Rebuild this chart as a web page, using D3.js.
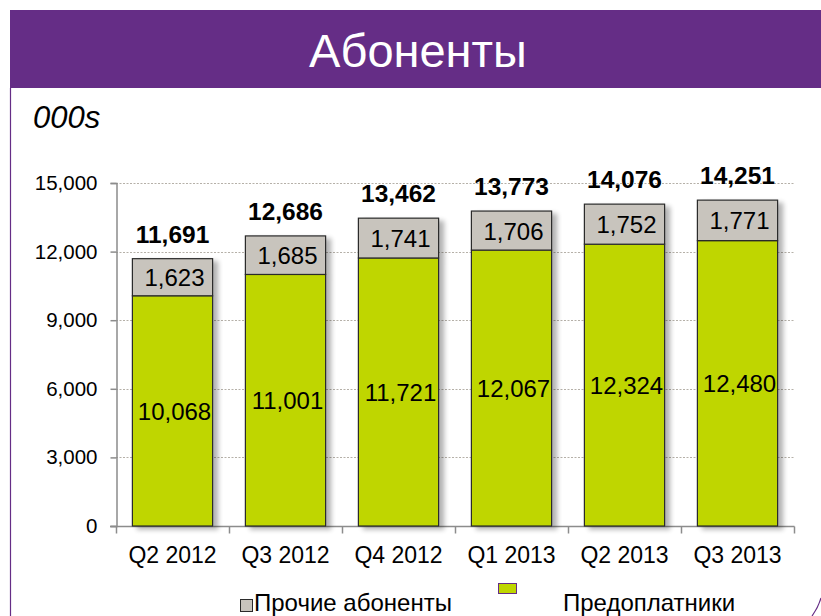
<!DOCTYPE html>
<html>
<head>
<meta charset="utf-8">
<script src="https://cdn.jsdelivr.net/npm/d3@7"></script>
<style>
  html, body { margin: 0; padding: 0; background: #fff; }
  svg { display: block; font-family: "Liberation Sans", Arial, sans-serif; }
</style>
</head>
<body>
<svg id="chart" width="821" height="616"></svg>
<script>
// data
const quarters = ["Q2 2012", "Q3 2012", "Q4 2012", "Q1 2013", "Q2 2013", "Q3 2013"];
const prepaid = [10068, 11001, 11721, 12067, 12324, 12480];
const others = [1623, 1685, 1741, 1706, 1752, 1771];
const totals = [11691, 12686, 13462, 13773, 14076, 14251];
const yTicks = [0, 3000, 6000, 9000, 12000, 15000];
const legendNames = ["Прочие абоненты", "Предоплатники"];

const purple = "#652d86";
const green = "#bfd600";
const grey = "#c8c4bd";

const svg = d3.select("#chart");
const fmt = d3.format(",");

// drop shadow to the right of bars
const defs = svg.append("defs");
const shadow = defs.append("filter").attr("id", "shadow")
    .attr("x", "-20%").attr("y", "-10%").attr("width", "160%").attr("height", "130%");
shadow.append("feGaussianBlur").attr("in", "SourceAlpha").attr("stdDeviation", 2.5).attr("result", "b");
shadow.append("feOffset").attr("in", "b").attr("dx", 5).attr("dy", 3).attr("result", "o");
shadow.append("feComponentTransfer").attr("in", "o").attr("result", "s")
    .append("feFuncA").attr("type", "linear").attr("slope", 0.3);
const merge = shadow.append("feMerge");
merge.append("feMergeNode").attr("in", "s");
merge.append("feMergeNode").attr("in", "SourceGraphic");

// header band + frame
svg.append("rect").attr("x", 10).attr("y", 10).attr("width", 811).attr("height", 78).attr("fill", purple);
svg.append("text").attr("x", 418).attr("y", 67).attr("text-anchor", "middle")
    .attr("fill", "#fff").attr("font-size", 47).text("Абоненты");
svg.append("line").attr("x1", 10.5).attr("x2", 10.5).attr("y1", 88).attr("y2", 616)
    .attr("stroke", purple).attr("stroke-width", 1.2);
svg.append("path").attr("d", "M812,616 Q818,608 821,598").attr("fill", "none")
    .attr("stroke", purple).attr("stroke-width", 1.2);

svg.append("text").attr("x", 33).attr("y", 128).attr("font-size", 31)
    .attr("font-style", "italic").attr("fill", "#000").text("000s");

// scales
const x = d3.scaleBand().domain(quarters).range([116, 794]).paddingInner(0.29).paddingOuter(0.145);
const y = d3.scaleLinear().domain([0, 15000]).range([526, 183]);

// gridlines
svg.append("g").selectAll("line").data(yTicks.filter(d => d > 0)).join("line")
    .attr("x1", 116).attr("x2", 794)
    .attr("y1", d => Math.round(y(d)) + 0.5).attr("y2", d => Math.round(y(d)) + 0.5)
    .attr("stroke", "#b5b0a8").attr("stroke-dasharray", "2,1.5").attr("stroke-width", 1);

// y axis
const yAxis = svg.append("g").attr("transform", "translate(116.5,0)")
    .call(d3.axisLeft(y).tickValues(yTicks).tickFormat(fmt).tickSize(6).tickPadding(13));
yAxis.select(".domain").attr("stroke", "#8c8c8c").attr("stroke-width", 1.5);
yAxis.selectAll(".tick line").attr("stroke", "#8c8c8c").attr("stroke-width", 1.5);
yAxis.selectAll(".tick text").attr("font-size", 20.5).attr("fill", "#000")
    .attr("font-family", "Liberation Sans, Arial, sans-serif");

// x axis with ticks at category boundaries
const xAxisG = svg.append("g").attr("transform", "translate(0,526.5)");
xAxisG.append("line").attr("x1", 110).attr("x2", 794.5).attr("stroke", "#8c8c8c").attr("stroke-width", 1.5);
const bounds = quarters.map(q => x(q) - x.step() * x.paddingInner() / 2).concat([794]);
xAxisG.selectAll("line.tk").data(bounds).join("line").attr("class", "tk")
    .attr("x1", d => Math.round(d) + 0.5).attr("x2", d => Math.round(d) + 0.5)
    .attr("y1", 0).attr("y2", 7).attr("stroke", "#8c8c8c").attr("stroke-width", 1.5);
xAxisG.selectAll("text").data(quarters).join("text")
    .attr("x", d => x(d) + x.bandwidth() / 2).attr("y", 36)
    .attr("text-anchor", "middle").attr("font-size", 23).attr("fill", "#000").text(d => d);

// stacked bars
const bars = svg.append("g").selectAll("g").data(quarters).join("g").attr("filter", "url(#shadow)");
bars.append("rect")
    .attr("x", d => x(d)).attr("width", x.bandwidth())
    .attr("y", (d, i) => y(prepaid[i])).attr("height", (d, i) => y(0) - y(prepaid[i]))
    .attr("fill", green).attr("stroke", "#2b2b2b").attr("stroke-width", 1.2);
bars.append("rect")
    .attr("x", d => x(d)).attr("width", x.bandwidth())
    .attr("y", (d, i) => y(prepaid[i] + others[i])).attr("height", (d, i) => y(prepaid[i]) - y(prepaid[i] + others[i]))
    .attr("fill", grey).attr("stroke", "#2b2b2b").attr("stroke-width", 1.2);

// labels
const labels = svg.append("g").attr("font-size", 24).attr("fill", "#000").attr("text-anchor", "middle");
labels.selectAll("text.pp").data(quarters).join("text").attr("class", "pp")
    .attr("x", d => x(d) + x.bandwidth() / 2 + 2)
    .attr("y", (d, i) => (y(prepaid[i]) + y(0)) / 2 + 9)
    .text((d, i) => fmt(prepaid[i]));
labels.selectAll("text.ot").data(quarters).join("text").attr("class", "ot")
    .attr("x", d => x(d) + x.bandwidth() / 2 + 2)
    .attr("y", (d, i) => (y(prepaid[i]) + y(prepaid[i] + others[i])) / 2 + 9)
    .text((d, i) => fmt(others[i]));
labels.selectAll("text.tot").data(quarters).join("text").attr("class", "tot")
    .attr("x", d => x(d) + x.bandwidth() / 2)
    .attr("y", (d, i) => y(totals[i]) - 16)
    .attr("font-weight", "bold").attr("font-size", 24.5)
    .text((d, i) => fmt(totals[i]));

// legend
const legend = svg.append("g").attr("font-size", 24).attr("fill", "#000");
legend.append("rect").attr("x", 240.5).attr("y", 599.5).attr("width", 12).attr("height", 12)
    .attr("fill", grey).attr("stroke", "#2b2b2b");
legend.append("text").attr("x", 254).attr("y", 611).text(legendNames[0]);
legend.append("rect").attr("x", 498.5).attr("y", 583.5).attr("width", 18).attr("height", 10)
    .attr("fill", green).attr("stroke", purple);
legend.append("text").attr("x", 563).attr("y", 611).text(legendNames[1]);
</script>
</body>
</html>
